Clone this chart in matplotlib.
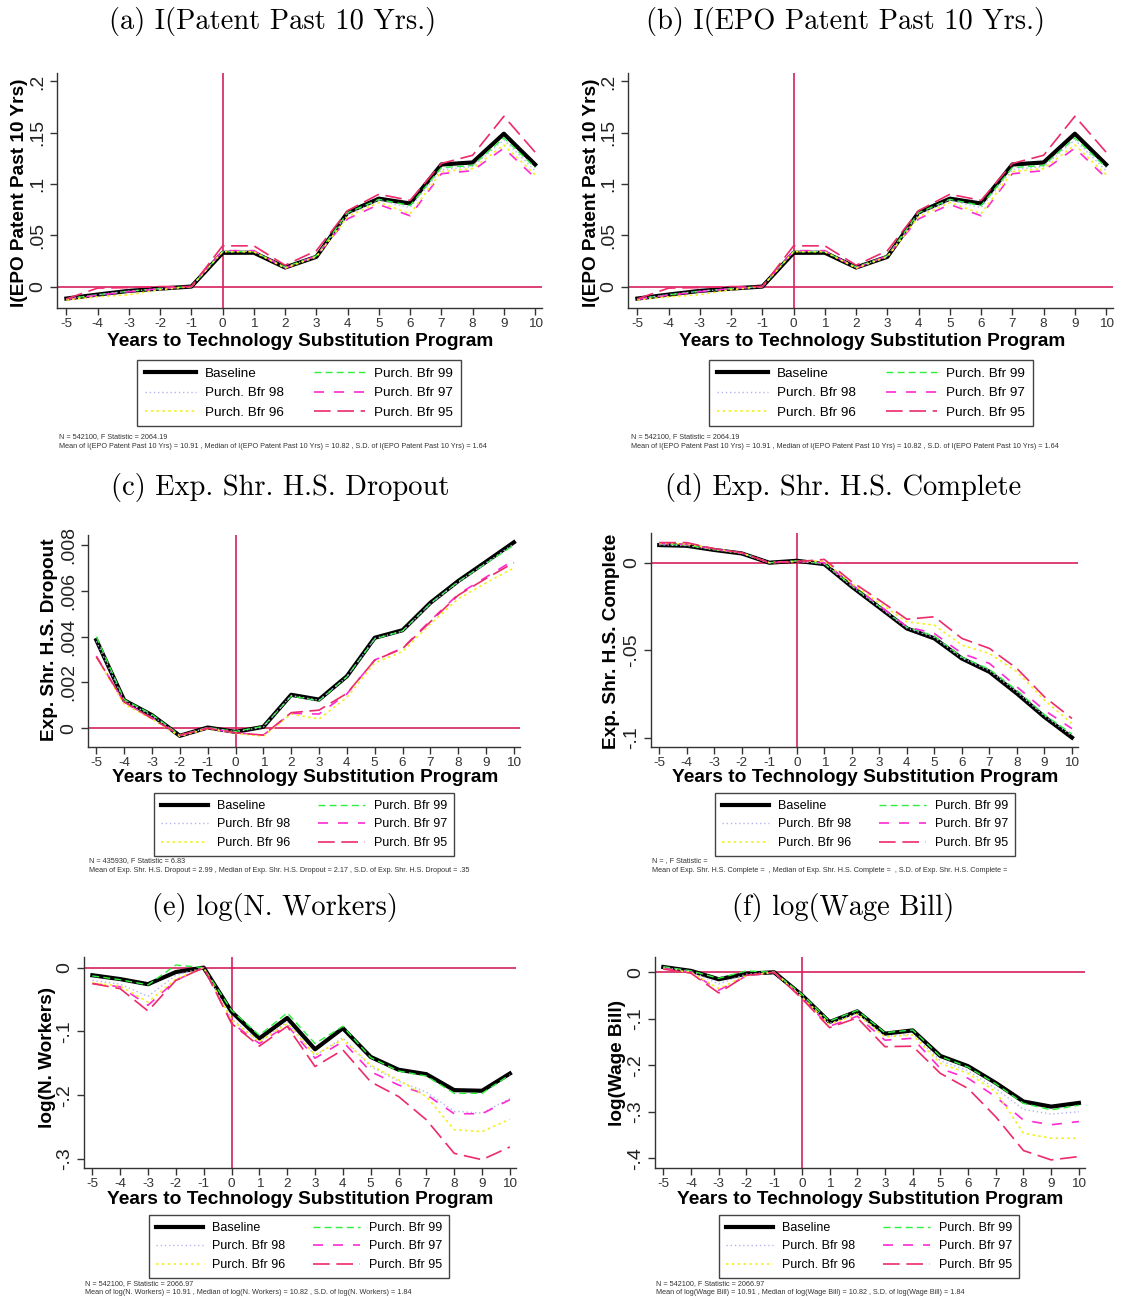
import matplotlib
matplotlib.use('Agg')
import matplotlib.pyplot as plt
from matplotlib.lines import Line2D

W, H = 1121, 1301
SANS = 'Liberation Sans'

years = list(range(-5, 11))

# (a)/(b) I(EPO Patent Past 10 Yrs)
pat_base = [-0.0117, -0.0078, -0.0042, -0.0020, 0.0, 0.0329, 0.0330, 0.0186, 0.0290, 0.0723, 0.0857, 0.0810, 0.1190, 0.1210, 0.1490, 0.1190]
pat_b99 = [-0.0120, -0.0080, -0.0045, -0.0020, 0.0, 0.0340, 0.0340, 0.0190, 0.0300, 0.0720, 0.0850, 0.0790, 0.1160, 0.1180, 0.1450, 0.1160]
pat_b98 = [-0.0120, -0.0080, -0.0045, -0.0022, 0.0, 0.0345, 0.0345, 0.0185, 0.0295, 0.0700, 0.0840, 0.0770, 0.1140, 0.1170, 0.1430, 0.1130]
pat_b97 = [-0.0125, -0.0085, -0.0050, -0.0020, 0.0, 0.0350, 0.0350, 0.0180, 0.0300, 0.0660, 0.0800, 0.0690, 0.1100, 0.1130, 0.1350, 0.1060]
pat_b96 = [-0.0130, -0.0100, -0.0080, -0.0030, 0.0, 0.0340, 0.0340, 0.0180, 0.0290, 0.0680, 0.0820, 0.0710, 0.1120, 0.1150, 0.1380, 0.1090]
pat_b95 = [-0.0120, -0.0015, -0.0010, 0.0, 0.0, 0.0397, 0.0397, 0.0208, 0.0350, 0.0740, 0.0900, 0.0840, 0.1200, 0.1280, 0.1660, 0.1310]

# (c) Exp. Shr. H.S. Dropout
drop_base = [0.00385, 0.00122, 0.00057, -0.00033, 0.00003, -0.00016, 0.00006, 0.00146, 0.00125, 0.00227, 0.00395, 0.00428, 0.00548, 0.00643, 0.00727, 0.00812]
drop_b99 = [0.00400, 0.00125, 0.00060, -0.00030, 0.00003, -0.00014, 0.00008, 0.00140, 0.00120, 0.00225, 0.00390, 0.00425, 0.00545, 0.00640, 0.00720, 0.00800]
drop_b98 = [0.00380, 0.00120, 0.00055, -0.00032, 0.00002, -0.00015, 0.00005, 0.00143, 0.00122, 0.00224, 0.00392, 0.00424, 0.00544, 0.00638, 0.00722, 0.00805]
drop_b97 = [0.00315, 0.00112, 0.00045, -0.00032, 0.0, -0.00020, -0.00030, 0.00065, 0.00062, 0.00150, 0.00298, 0.00350, 0.00470, 0.00585, 0.00660, 0.00734]
drop_b96 = [0.00310, 0.00105, 0.00040, -0.00035, -0.00002, -0.00022, -0.00035, 0.00062, 0.00040, 0.00135, 0.00285, 0.00335, 0.00455, 0.00565, 0.00635, 0.00700]
drop_b95 = [0.00312, 0.00115, 0.00042, -0.00030, 0.0, -0.00020, -0.00030, 0.00068, 0.00079, 0.00152, 0.00297, 0.00348, 0.00465, 0.00581, 0.00654, 0.00723]

# (d) Exp. Shr. H.S. Complete
comp_base = [0.0101, 0.0097, 0.0073, 0.0053, 0.0, 0.0011, -0.0008, -0.0137, -0.0256, -0.0376, -0.0433, -0.0548, -0.0624, -0.0748, -0.0882, -0.1000]
comp_b99 = [0.0105, 0.0100, 0.0075, 0.0055, 0.0, 0.0010, -0.0005, -0.0132, -0.0250, -0.0370, -0.0420, -0.0540, -0.0610, -0.0730, -0.0870, -0.0980]
comp_b98 = [0.0103, 0.0098, 0.0074, 0.0054, 0.0, 0.0010, -0.0007, -0.0135, -0.0253, -0.0373, -0.0428, -0.0545, -0.0618, -0.0740, -0.0876, -0.0990]
comp_b97 = [0.0110, 0.0105, 0.0078, 0.0056, 0.0, 0.0008, 0.0000, -0.0125, -0.0245, -0.0366, -0.0405, -0.0519, -0.0576, -0.0710, -0.0844, -0.0949]
comp_b96 = [0.0112, 0.0108, 0.0079, 0.0056, 0.0, 0.0007, 0.0010, -0.0120, -0.0230, -0.0338, -0.0357, -0.0471, -0.0519, -0.0624, -0.0786, -0.0920]
comp_b95 = [0.0115, 0.0115, 0.0080, 0.0057, 0.0, 0.0006, 0.0019, -0.0109, -0.0214, -0.0323, -0.0309, -0.0433, -0.0490, -0.0605, -0.0767, -0.0891]

# (e) log(N. Workers)
work_base = [-0.012, -0.018, -0.026, -0.007, 0.0, -0.069, -0.111, -0.079, -0.128, -0.095, -0.140, -0.160, -0.167, -0.192, -0.193, -0.166]
work_b99 = [-0.013, -0.019, -0.027, 0.004, 0.0, -0.067, -0.106, -0.071, -0.119, -0.092, -0.141, -0.162, -0.170, -0.197, -0.197, -0.168]
work_b98 = [-0.020, -0.026, -0.045, -0.012, 0.0, -0.080, -0.116, -0.085, -0.138, -0.110, -0.155, -0.178, -0.195, -0.225, -0.228, -0.205]
work_b97 = [-0.025, -0.030, -0.059, -0.020, 0.0, -0.0865, -0.119, -0.090, -0.142, -0.116, -0.163, -0.184, -0.199, -0.229, -0.229, -0.207]
work_b96 = [-0.024, -0.029, -0.054, -0.018, 0.0, -0.082, -0.116, -0.0875, -0.137, -0.1125, -0.153, -0.176, -0.202, -0.254, -0.257, -0.2375]
work_b95 = [-0.025, -0.033, -0.068, -0.020, 0.0, -0.0875, -0.123, -0.092, -0.155, -0.129, -0.179, -0.202, -0.2385, -0.291, -0.301, -0.281]

# (f) log(Wage Bill)
wage_base = [0.0114, 0.003, -0.015, -0.003, 0.0, -0.049, -0.107, -0.084, -0.132, -0.125, -0.180, -0.202, -0.238, -0.278, -0.289, -0.281]
wage_b99 = [0.012, 0.003, -0.013, 0.003, 0.0, -0.047, -0.105, -0.082, -0.130, -0.124, -0.181, -0.204, -0.240, -0.282, -0.296, -0.286]
wage_b98 = [0.010, 0.002, -0.025, -0.004, 0.0, -0.052, -0.110, -0.088, -0.138, -0.133, -0.190, -0.212, -0.250, -0.295, -0.305, -0.300]
wage_b97 = [0.008, 0.000, -0.0386, -0.008, 0.0, -0.055, -0.116, -0.0945, -0.146, -0.142, -0.207, -0.228, -0.268, -0.318, -0.328, -0.321]
wage_b96 = [0.008, 0.000, -0.035, -0.007, 0.0, -0.053, -0.112, -0.090, -0.139, -0.135, -0.196, -0.2175, -0.257, -0.346, -0.357, -0.357]
wage_b95 = [0.007, -0.002, -0.0444, -0.0064, 0.0, -0.0565, -0.119, -0.098, -0.160, -0.159, -0.2175, -0.250, -0.311, -0.3835, -0.4036, -0.3964]

series_names = ['Baseline', 'Purch. Bfr 99', 'Purch. Bfr 98', 'Purch. Bfr 97', 'Purch. Bfr 96', 'Purch. Bfr 95']
legend_order = ['Baseline', 'Purch. Bfr 98', 'Purch. Bfr 96', 'Purch. Bfr 99', 'Purch. Bfr 97', 'Purch. Bfr 95']

styles = {
    'Baseline': dict(color='black', lw=3.0, ls='-'),
    'Purch. Bfr 99': dict(color='#2df03c', lw=1.0, ls=(0, (5, 3))),
    'Purch. Bfr 98': dict(color='#b4b4f0', lw=1.0, ls=(0, (1, 2))),
    'Purch. Bfr 97': dict(color='#ff2ad4', lw=1.2, ls=(0, (6, 6))),
    'Purch. Bfr 96': dict(color='#f2f020', lw=1.2, ls=(0, (1.5, 2))),
    'Purch. Bfr 95': dict(color='#ee2b6a', lw=1.2, ls=(0, (10, 4))),
}
REF = '#d8205c'

pat_note = ["N = 542100, F Statistic = 2064.19",
            "Mean of I(EPO Patent Past 10 Yrs) = 10.91 , Median of I(EPO Patent Past 10 Yrs) = 10.82 , S.D. of I(EPO Patent Past 10 Yrs) = 1.64"]

panels = [
    dict(title='(a) I(Patent Past 10 Yrs.)', ylabel='I(EPO Patent Past 10 Yrs)',
         data=[pat_base, pat_b99, pat_b98, pat_b97, pat_b96, pat_b95],
         yticks=[0, .05, .1, .15, .2], ylabs=['0', '.05', '.1', '.15', '.2'], ylim=(-0.0209, 0.2082),
         note=pat_note),
    dict(title='(b) I(EPO Patent Past 10 Yrs.)', ylabel='I(EPO Patent Past 10 Yrs)',
         data=[pat_base, pat_b99, pat_b98, pat_b97, pat_b96, pat_b95],
         yticks=[0, .05, .1, .15, .2], ylabs=['0', '.05', '.1', '.15', '.2'], ylim=(-0.0209, 0.2082),
         note=pat_note),
    dict(title='(c) Exp. Shr. H.S. Dropout', ylabel='Exp. Shr. H.S. Dropout',
         data=[drop_base, drop_b99, drop_b98, drop_b97, drop_b96, drop_b95],
         yticks=[0, .002, .004, .006, .008], ylabs=['0', '.002', '.004', '.006', '.008'], ylim=(-0.00082, 0.00844),
         note=["N = 435930, F Statistic = 6.83",
               "Mean of Exp. Shr. H.S. Dropout = 2.99 , Median of Exp. Shr. H.S. Dropout = 2.17 , S.D. of Exp. Shr. H.S. Dropout = .35"]),
    dict(title='(d) Exp. Shr. H.S. Complete', ylabel='Exp. Shr. H.S. Complete',
         data=[comp_base, comp_b99, comp_b98, comp_b97, comp_b96, comp_b95],
         yticks=[-.1, -.05, 0], ylabs=['-.1', '-.05', '0'], ylim=(-0.1054, 0.017),
         note=["N = , F Statistic =",
               "Mean of Exp. Shr. H.S. Complete =  , Median of Exp. Shr. H.S. Complete =  , S.D. of Exp. Shr. H.S. Complete ="]),
    dict(title='(e) log(N. Workers)', ylabel='log(N. Workers)',
         data=[work_base, work_b99, work_b98, work_b97, work_b96, work_b95],
         yticks=[-.3, -.2, -.1, 0], ylabs=['-.3', '-.2', '-.1', '0'], ylim=(-0.314, 0.0166),
         note=["N = 542100, F Statistic = 2066.97",
               "Mean of log(N. Workers) = 10.91 , Median of log(N. Workers) = 10.82 , S.D. of log(N. Workers) = 1.84"]),
    dict(title='(f) log(Wage Bill)', ylabel='log(Wage Bill)',
         data=[wage_base, wage_b99, wage_b98, wage_b97, wage_b96, wage_b95],
         yticks=[-.4, -.3, -.2, -.1, 0], ylabs=['-.4', '-.3', '-.2', '-.1', '0'], ylim=(-0.421, 0.0329),
         note=["N = 542100, F Statistic = 2066.97",
               "Mean of log(Wage Bill) = 10.91 , Median of log(Wage Bill) = 10.82 , S.D. of log(Wage Bill) = 1.84"]),
]

# layout in pixels: axes box (l, t, r, b), title, ylabel x/y, xlabel x/y, legend cx/top/size, note x/y
layout = [
    dict(box=(57, 73, 542, 308), title=(273, 22), yl=(20, 193), xl=(300, 342), leg=(299, 360, 9.7), note=(59, 437)),
    dict(box=(628, 73, 1113, 308), title=(846, 22), yl=(591, 193), xl=(872, 342), leg=(871, 360, 9.7), note=(631, 437)),
    dict(box=(88, 535, 520, 747), title=(280, 487), yl=(50, 640), xl=(305, 777), leg=(304, 793, 9.0), note=(89, 861)),
    dict(box=(651, 533, 1078, 747), title=(843, 487), yl=(612, 641), xl=(865, 777), leg=(865, 793, 9.0), note=(652, 861)),
    dict(box=(84, 957, 516, 1168), title=(275, 908), yl=(47, 1057), xl=(300, 1199), leg=(299, 1215, 9.0), note=(85, 1284)),
    dict(box=(655, 957, 1085, 1168), title=(843, 908), yl=(617, 1063), xl=(870, 1199), leg=(869, 1215, 9.0), note=(656, 1284)),
]

fig = plt.figure(figsize=(W / 100, H / 100), dpi=100)


def fx(x):
    return x / W


def fy(y):
    return 1 - y / H


for p, lay in zip(panels, layout):
    l, t, r, b = lay['box']
    ax = fig.add_axes([fx(l), fy(b), (r - l) / W, (b - t) / H])
    ax.axhline(0, color=REF, lw=1.2, zorder=1)
    ax.axvline(0, color=REF, lw=1.2, zorder=1)
    for name, vals in zip(series_names, p['data']):
        st = styles[name]
        ax.plot(years, vals, color=st['color'], lw=st['lw'], ls=st['ls'],
                zorder=2 if name == 'Baseline' else 3)
    ax.set_xlim(-5.3, 10.22)
    ax.set_ylim(*p['ylim'])
    ax.set_xticks(years)
    ax.set_xticklabels([str(v) for v in years], fontfamily=SANS, fontsize=9.7, color='#333333')
    ax.set_yticks(p['yticks'])
    ax.set_yticklabels(p['ylabs'], fontfamily=SANS, fontsize=14, rotation=90, va='center', color='#222222')
    ax.tick_params(direction='out', length=5, width=1, color='#333333', pad=3)
    ax.tick_params(axis='x', pad=2)
    for s in ['top', 'right']:
        ax.spines[s].set_visible(False)
    for s in ['left', 'bottom']:
        ax.spines[s].set_color('#333333')
        ax.spines[s].set_linewidth(1.0)

    fig.text(fx(lay['title'][0]), fy(lay['title'][1]), p['title'], family='cmr10', fontsize=20.5,
             ha='center', va='center')
    fig.text(fx(lay['yl'][0]), fy(lay['yl'][1]), p['ylabel'], family=SANS, fontweight='bold',
             fontsize=13.7, rotation=90, ha='center', va='center')
    fig.text(fx(lay['xl'][0]), fy(lay['xl'][1]), 'Years to Technology Substitution Program',
             family=SANS, fontweight='bold', fontsize=13.8, ha='center', va='center')

    cx, top, fs = lay['leg']
    handles = [Line2D([], [], color=styles[n]['color'], lw=styles[n]['lw'], ls=styles[n]['ls'])
               for n in legend_order]
    leg = ax.legend(handles, legend_order, ncol=2, loc='upper center',
                    bbox_to_anchor=(fx(cx), fy(top)), bbox_transform=fig.transFigure,
                    prop={'family': SANS, 'size': fs}, handlelength=3.8, handletextpad=0.7,
                    columnspacing=2.2, labelspacing=0.52, borderpad=0.55, borderaxespad=0,
                    fancybox=False, edgecolor='#444444', framealpha=1)
    leg.get_frame().set_linewidth(1.0)

    nx, ny = lay['note']
    fig.text(fx(nx), fy(ny), p['note'][0], family=SANS, fontsize=5.2, color='#333333', va='center')
    fig.text(fx(nx), fy(ny + 9), p['note'][1], family=SANS, fontsize=5.2, color='#333333', va='center')

fig.savefig('out.png', dpi=100)
